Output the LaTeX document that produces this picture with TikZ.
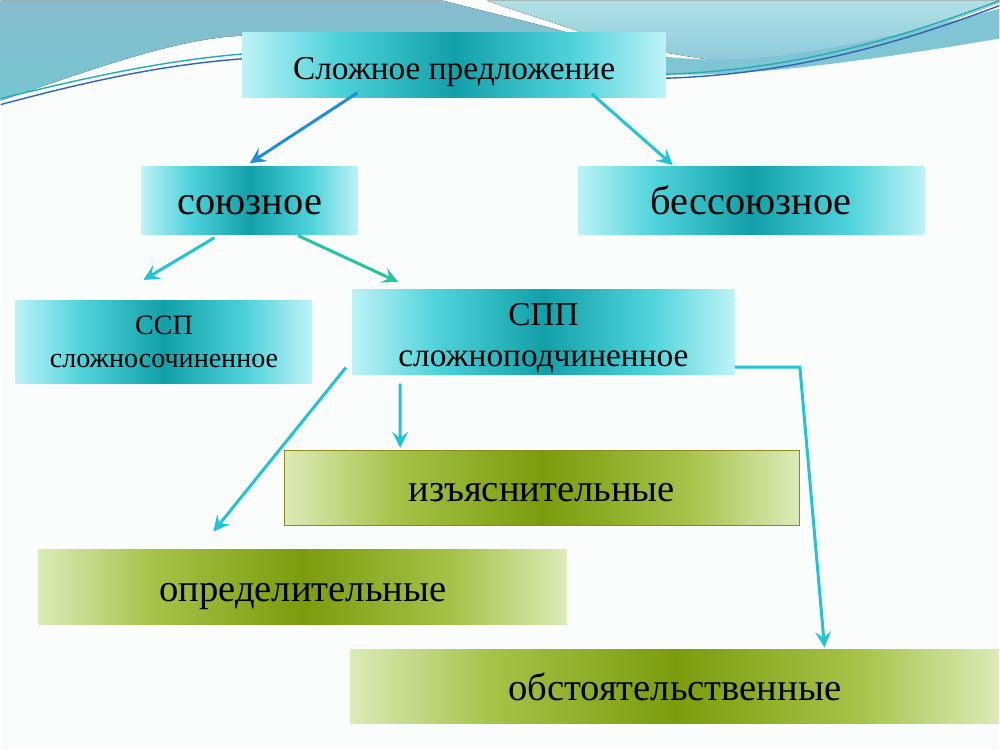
\documentclass[tikz,border=0pt]{standalone}
\usepackage{xcolor}
\usepackage{fontspec}
\setmainfont{Liberation Serif}
\usepackage{tikz}
\usetikzlibrary{arrows.meta}

\definecolor{tealE}{HTML}{BDF3F7}
\definecolor{tealM}{HTML}{4FD3DB}
\definecolor{tealD}{HTML}{12A0A8}
\definecolor{greenE}{HTML}{DCEBB8}
\definecolor{greenM}{HTML}{A6C248}
\definecolor{greenD}{HTML}{7A9C0C}
\definecolor{arrBlue}{HTML}{1E8FD5}
\definecolor{arrCyan}{HTML}{1FC4D6}
\definecolor{arrGreen}{HTML}{22C4A4}
\definecolor{paper}{HTML}{FBFDFD}
\definecolor{waveLtop}{HTML}{87BCCE}
\definecolor{waveLbot}{HTML}{76C6D1}
\definecolor{waveRtop}{HTML}{B0E0E4}
\definecolor{waveRbot}{HTML}{8ECADB}
\definecolor{waveBand}{HTML}{80C5D3}
\definecolor{lineBlue}{HTML}{2F62B8}
\definecolor{lineTeal}{HTML}{20ADB5}

\pgfdeclarehorizontalshading{tealbox}{100bp}{color(0bp)=(tealE); color(25bp)=(tealE);
  color(36bp)=(tealM); color(50bp)=(tealD); color(64bp)=(tealM); color(75bp)=(tealE); color(100bp)=(tealE)}
\pgfdeclarehorizontalshading{greenbox}{100bp}{color(0bp)=(greenE); color(25bp)=(greenE);
  color(36bp)=(greenM); color(50bp)=(greenD); color(64bp)=(greenM); color(75bp)=(greenE); color(100bp)=(greenE)}

\begin{document}
\begin{tikzpicture}[x=0.02cm, y=-0.02cm,
  tbox/.style={shading=tealbox, inner sep=0pt, align=center, text=black},
  gbox/.style={shading=greenbox, inner sep=0pt, align=center, text=black},
  oneline/.style={text height=18pt, text depth=2pt},
  arr/.style={line width=1.7pt, -{Stealth[length=9pt,width=9pt,inset=3.5pt]}}]

% background
\fill[paper] (0,0) rectangle (1000,750);

\fill[top color=waveLtop, bottom color=waveLbot]
  (0,0) -- (443,0) .. controls (500,15) and (560,28) .. (600,42) -- (260,42) -- (242,35)
  .. controls (180,38) and (110,62) .. (0,100) -- cycle; % left wave
\fill[top color=waveRtop, bottom color=waveRbot]
  (487,0) -- (1000,0) -- (1000,2) .. controls (900,40) and (820,62) .. (760,62)
  .. controls (720,62) and (690,56) .. (666,52) -- (640,52) .. controls (580,30) and (530,15) .. (487,0) -- cycle; % right wave
\fill[waveBand]
  (640,56) -- (666,56) .. controls (760,68) and (880,40) .. (1000,8) -- (1000,38)
  .. controls (880,58) and (760,76) .. (666,74) -- (640,74) -- cycle;

\draw[lineTeal, line width=0.8pt] (0,98) .. controls (90,76) and (170,58) .. (260,52);
\draw[lineBlue, line width=0.8pt] (0,104) .. controls (90,80) and (170,62) .. (260,57);
\draw[lineTeal, line width=0.8pt] (650,74) .. controls (800,72) and (920,30) .. (1000,0);
\draw[lineBlue, line width=0.8pt] (650,78) .. controls (800,76) and (920,35) .. (1000,5);

% boxes
\node[tbox, oneline, minimum width=8.48cm, minimum height=1.3cm, font=\fontsize{19}{22}\selectfont]
  (top) at (454,64.5) {Сложное предложение};
\node[tbox, oneline, minimum width=4.34cm, minimum height=1.36cm, font=\fontsize{23}{26}\selectfont]
  (soyuz) at (249.5,200) {союзное};
\node[tbox, oneline, minimum width=6.94cm, minimum height=1.36cm, font=\fontsize{23}{26}\selectfont]
  (bessoyuz) at (751.5,200) {бессоюзное};
\node[tbox, minimum width=5.94cm, minimum height=1.66cm, font=\fontsize{16}{19}\selectfont]
  (ssp) at (163.5,341.5) {ССП\\сложносочиненное};
\node[tbox, minimum width=7.66cm, minimum height=1.7cm, font=\fontsize{19}{23}\selectfont]
  (spp) at (543.5,331.5) {\rule{0pt}{20pt}СПП\\сложноподчиненное};

\node[gbox, oneline, draw=olive!80!gray, minimum width=10.32cm, minimum height=1.5cm, font=\fontsize{22}{26}\selectfont]
  (izyas) at (542,487.5) {изъяснительные};
\node[gbox, oneline, minimum width=10.58cm, minimum height=1.5cm, font=\fontsize{22}{26}\selectfont]
  (opred) at (302.5,587.5) {определительные};
\node[gbox, oneline, minimum width=13cm, minimum height=1.48cm, font=\fontsize{22}{26}\selectfont]
  (obst) at (675,687) {обстоятельственные};

% arrows
\draw[arr, arrBlue] ([xshift=-1.94cm,yshift=0.1cm]top.south) -- ([yshift=0.06cm]soyuz.north);
\draw[arr, arrCyan] ([xshift=2.76cm,yshift=0.08cm]top.south) -- ([xshift=-1.57cm,yshift=0.02cm]bessoyuz.north);
\draw[arr, arrCyan] ([xshift=-0.71cm,yshift=-0.06cm]soyuz.south) -- ([xshift=-0.41cm,yshift=0.4cm]ssp.north);
\draw[arr, arrGreen] ([xshift=0.97cm,yshift=-0.02cm]soyuz.south) -- ([xshift=-2.91cm,yshift=0.14cm]spp.north);
\draw[arr, arrCyan] ([xshift=-0.12cm,yshift=0.14cm]spp.south west) -- ([xshift=-1.79cm,yshift=0.36cm]opred.north);
\draw[arr, arrCyan] ([xshift=-2.87cm,yshift=-0.18cm]spp.south) -- ([xshift=-2.84cm,yshift=0.04cm]izyas.north);
\draw[arr, arrCyan] ([yshift=-0.71cm]spp.east) -- ++(1.3cm,0) -- ([xshift=3cm,yshift=0.04cm]obst.north);

\end{tikzpicture}
\end{document}
